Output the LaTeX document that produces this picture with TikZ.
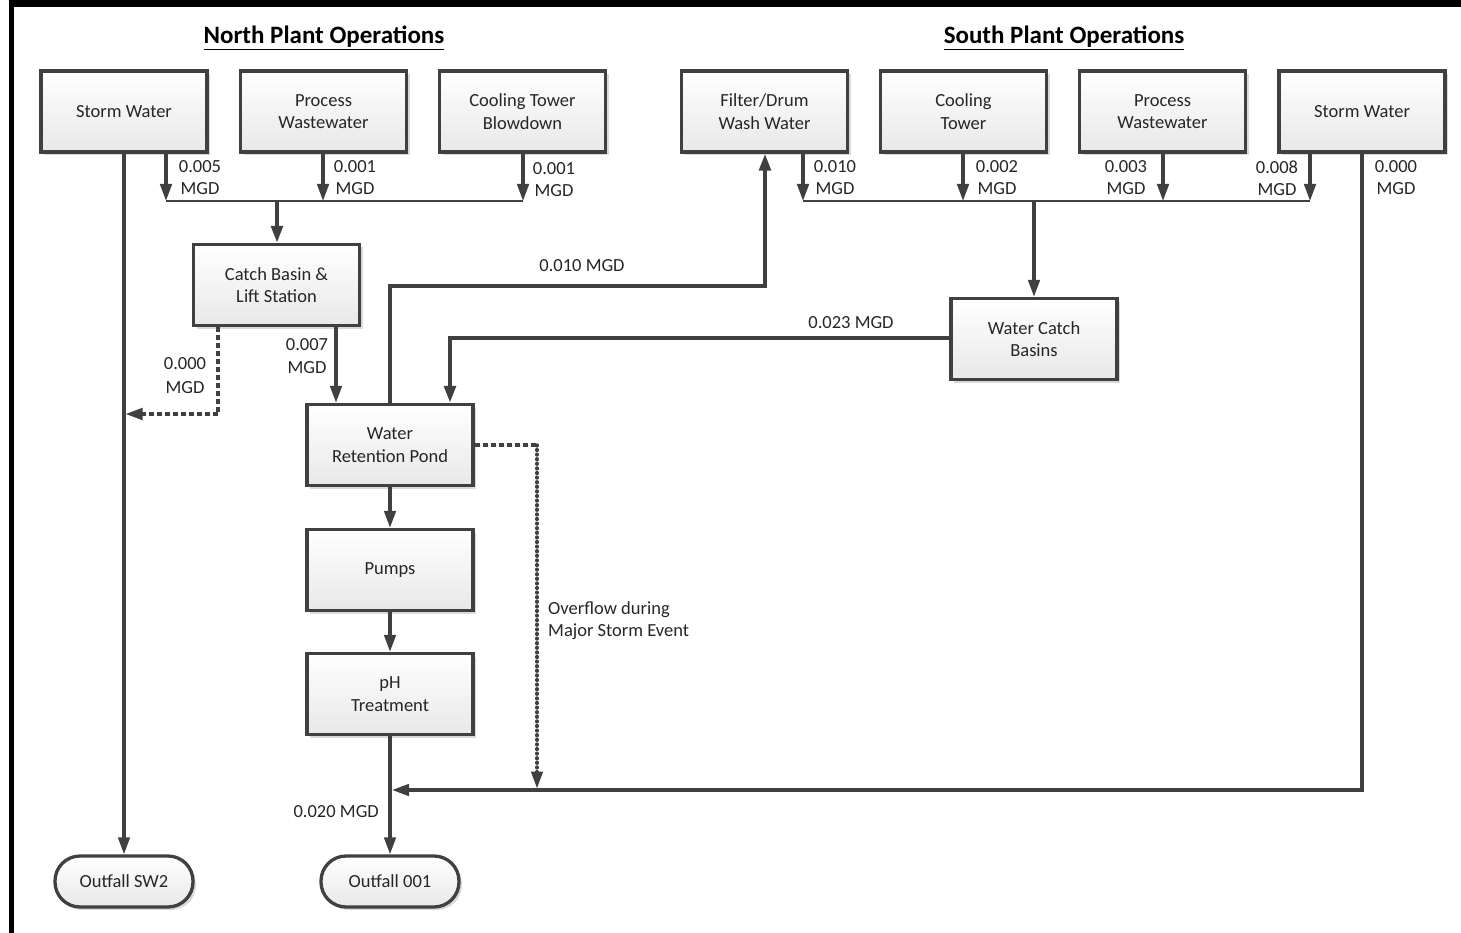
\documentclass[tikz,border=0pt]{standalone}
\usepackage{fontspec}
\setmainfont{Carlito}
\usetikzlibrary{arrows.meta,shadows,calc}
\definecolor{ln}{HTML}{404040}
\definecolor{tx}{HTML}{262626}
\tikzset{
  tip/.style={-{Triangle[length=17pt,width=11.5pt]}},
  box/.style={draw=ln, line width=3.3pt, top color=white, bottom color=black!9,
    minimum width=166pt, minimum height=81pt, align=center, text=tx,
    font=\fontsize{18.5}{22.5}\selectfont,
    drop shadow={shadow xshift=3pt, shadow yshift=-3pt, fill=black!25, opacity=.6}},
  term/.style={box, minimum width=138pt, minimum height=51pt, rounded corners=25pt},
  flow/.style={draw=ln, line width=3.2pt, tip},
  heavy/.style={flow, line width=4pt},
  bus/.style={draw=ln, line width=2.6pt},
  dsh/.style={draw=ln, line width=3.2pt, dash pattern=on 5pt off 3pt},
  dts/.style={draw=ln, line width=3.4pt, line cap=round, dash pattern=on 0.8pt off 3.8pt},
  lbl/.style={text=tx, font=\fontsize{18.5}{22}\selectfont, align=center, inner sep=0pt},
  ttl/.style={text=black, font=\fontsize{25}{28}\bfseries\selectfont, inner sep=0pt}
}
\begin{document}
\begin{tikzpicture}[x=1pt,y=-1pt]
\useasboundingbox (0,0) rectangle (1461,933);
% frame
\fill[black] (9,0) rectangle (1461,7);
\fill[black] (9,0) rectangle (14,933);
% titles
\node[ttl] (tN) at (324,38) {\underline{North Plant Operations}};
\node[ttl] (tS) at (1064,38) {\underline{South Plant Operations}};
% north boxes
\node[box] (NSW) at (124,111.5) {Storm Water};
\node[box] (NPW) at (323.5,111.5) {Process\\Wastewater};
\node[box] (NCT) at (522.5,111.5) {Cooling Tower\\Blowdown};
% south boxes
\node[box] (FD) at (764.5,111.5) {Filter/Drum\\Wash Water};
\node[box] (SCT) at (963.5,111.5) {Cooling\\Tower};
\node[box] (SPW) at (1162.5,111.5) {Process\\Wastewater};
\node[box] (SSW) at (1362,111.5) {Storm Water};
% middle
\node[box] (CB) at (276.5,285) {Catch Basin \&\\Lift Station};
\node[box] (WCB) at (1034,339) {Water Catch\\Basins};
\node[box] (WRP) at (390,445) {Water\\Retention Pond};
\node[box] (PU) at (390,570) {Pumps};
\node[box] (PH) at (390,694) {pH\\Treatment};
\node[term] (O2) at (124,881.5) {Outfall SW2};
\node[term] (O1) at (390,881.5) {Outfall 001};
% north bus
\coordinate (nb1) at (166,201);
\coordinate (nb2) at (323,201);
\coordinate (nb3) at (523,201);
\coordinate (nbm) at (277,201);
\draw[bus] (nb1) -- (nb3);
\draw[flow] (NSW.south -| nb1) -- (nb1);
\draw[flow] (NPW.south -| nb2) -- (nb2);
\draw[flow] (NCT.south -| nb3) -- (nb3);
\draw[heavy] (nbm) -- (CB.north -| nbm);
\node[lbl] (l1) at (200,178) {0.005\\MGD};
\node[lbl] (l2) at (355,178) {0.001\\MGD};
\node[lbl] (l3) at (554,180) {0.001\\MGD};
% south bus
\coordinate (sb1) at (803,201);
\coordinate (sb2) at (963,201);
\coordinate (sb3) at (1163,201);
\coordinate (sb4) at (1310,201);
\coordinate (sbm) at (1034,201);
\draw[bus] (sb1) -- (sb4);
\draw[flow] (FD.south -| sb1) -- (sb1);
\draw[flow] (SCT.south -| sb2) -- (sb2);
\draw[flow] (SPW.south -| sb3) -- (sb3);
\draw[flow] (SSW.south -| sb4) -- (sb4);
\draw[flow] (sbm) -- (WCB.north -| sbm);
\node[lbl] (l4) at (835,178) {0.010\\MGD};
\node[lbl] (l5) at (997,178) {0.002\\MGD};
\node[lbl] (l6) at (1126,178) {0.003\\MGD};
\node[lbl] (l7) at (1277,178) {0.008\\MGD};
\node[lbl] (l8) at (1396,178) {0.000\\MGD};
% storm water north to outfall SW2
\draw[flow] (NSW.south) -- (O2.north);
% catch basin dashed to SW2 line
\coordinate (cbc) at (218,414);
\coordinate (cbj) at (125.5,414);
\draw[dsh] (CB.south -| cbc) -- (cbc);
\draw[dsh, tip] (cbc) -- (cbj);
\node[lbl, font=\fontsize{18.5}{24}\selectfont] (l9) at (185,376) {0.000\\MGD};
% catch basin to WRP
\coordinate (cbw) at (336,0);
\draw[flow] (CB.south -| cbw) -- (WRP.north -| cbw);
\node[lbl, font=\fontsize{18.5}{23}\selectfont] (l10) at (307,356) {0.007\\MGD};
% WRP to filter drum
\coordinate (fa) at (390,286);
\coordinate (fb) at (765,286);
\draw[heavy] (WRP.north) -- (fa) -- (fb) -- (FD.south -| fb);
\node[lbl] (l11) at (582,266) {0.010 MGD};
% WCB to WRP
\coordinate (wa) at (450,338);
\draw[heavy] (WCB.west |- wa) -- (wa) -- (WRP.north -| wa);
\node[lbl] (l12) at (851,323) {0.023 MGD};
% chain
\draw[flow] (WRP) -- (PU);
\draw[flow] (PU) -- (PH);
\draw[flow] (PH) -- (O1);
\node[lbl, anchor=east] (l13) at (379,812) {0.020 MGD};
% south storm water to outfall 001 line
\coordinate (ssc) at (1362,790);
\coordinate (ssj) at (392,790);
\draw[flow] (SSW.south) -- (ssc) -- (ssj);
% overflow
\coordinate (ovc) at (537,445);
\coordinate (ovj) at (537,788.5);
\draw[dsh] (WRP.east) -- (ovc);
\draw[dts] (ovc) -- ($(ovj)+(0,-14)$);
\draw[flow] ($(ovj)+(0,-16)$) -- (ovj);
\node[lbl, align=left, anchor=west] (l14) at (548,620.5) {Overflow during\\Major Storm Event};
\end{tikzpicture}
\end{document}
